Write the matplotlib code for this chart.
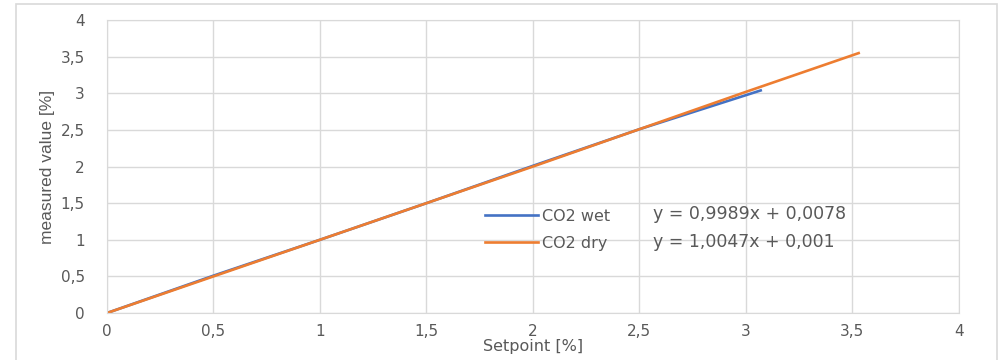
import matplotlib
matplotlib.use('Agg')
import matplotlib.pyplot as plt
from matplotlib.patches import Rectangle

# data
setpoint_wet = [0, 0.5, 1.0, 1.5, 2.0, 2.5, 3.07]
measured_wet = [0, 0.51, 1.0, 1.5, 2.01, 2.51, 3.04]
setpoint_dry = [0, 0.5, 1.0, 1.5, 2.0, 2.5, 3.0, 3.53]
measured_dry = [0, 0.5, 1.0, 1.5, 2.0, 2.51, 3.02, 3.55]
series_names = ['CO2 wet', 'CO2 dry']
equations = ['y = 0,9989x + 0,0078', 'y = 1,0047x + 0,001']
ticks = [0, 0.5, 1, 1.5, 2, 2.5, 3, 3.5, 4]
tick_labels = ['0', '0,5', '1', '1,5', '2', '2,5', '3', '3,5', '4']

blue = '#4472C4'
orange = '#ED7D31'
grid_col = '#d9d9d9'
text_col = '#595959'
tick_font = ['DejaVu Sans']
label_font = ['Liberation Sans Narrow', 'Liberation Sans', 'DejaVu Sans']

fig = plt.figure(figsize=(10.06, 3.6), dpi=100)
fig.patches.append(Rectangle((0.016, -0.01), 0.975, 1.0, transform=fig.transFigure,
                             fill=False, edgecolor=grid_col, linewidth=1.2))
ax = fig.add_axes([0.1064, 0.1306, 0.8466, 0.8134])

ax.plot(setpoint_wet, measured_wet, color=blue, linewidth=1.9, label=series_names[0])
ax.plot(setpoint_dry, measured_dry, color=orange, linewidth=1.9, label=series_names[1])

ax.set_xlim(0, 4)
ax.set_ylim(0, 4)
ax.set_xticks(ticks)
ax.set_xticklabels(tick_labels)
ax.set_yticks(ticks)
ax.set_yticklabels(tick_labels)
for lab in ax.get_xticklabels() + ax.get_yticklabels():
    lab.set_family(tick_font)
    lab.set_fontsize(11)
    lab.set_color(text_col)
ax.tick_params(length=0, pad=8)
ax.tick_params(axis='y', pad=16)
ax.grid(True, color=grid_col, linewidth=1.0)
ax.set_axisbelow(True)
for s in ax.spines.values():
    s.set_color(grid_col)

ax.set_xlabel('Setpoint [%]', family=tick_font, fontsize=11.5, color=text_col, labelpad=0)
ax.set_ylabel('measured value [%]', family=label_font, fontsize=12.5, color=text_col, labelpad=4)

leg = ax.legend(loc='center left', bbox_to_anchor=(0.474, 0.362), bbox_transform=fig.transFigure,
                frameon=False, handlelength=3.3, handletextpad=0.25, labelspacing=0.75,
                borderpad=0, prop={'family': tick_font, 'size': 11.5})
for t in leg.get_texts():
    t.set_color(text_col)

fig.text(0.649, 0.405, equations[0], family=tick_font, fontsize=12.5, color=text_col, va='center')
fig.text(0.649, 0.327, equations[1], family=tick_font, fontsize=12.5, color=text_col, va='center')

fig.savefig('out.png', dpi=100)
